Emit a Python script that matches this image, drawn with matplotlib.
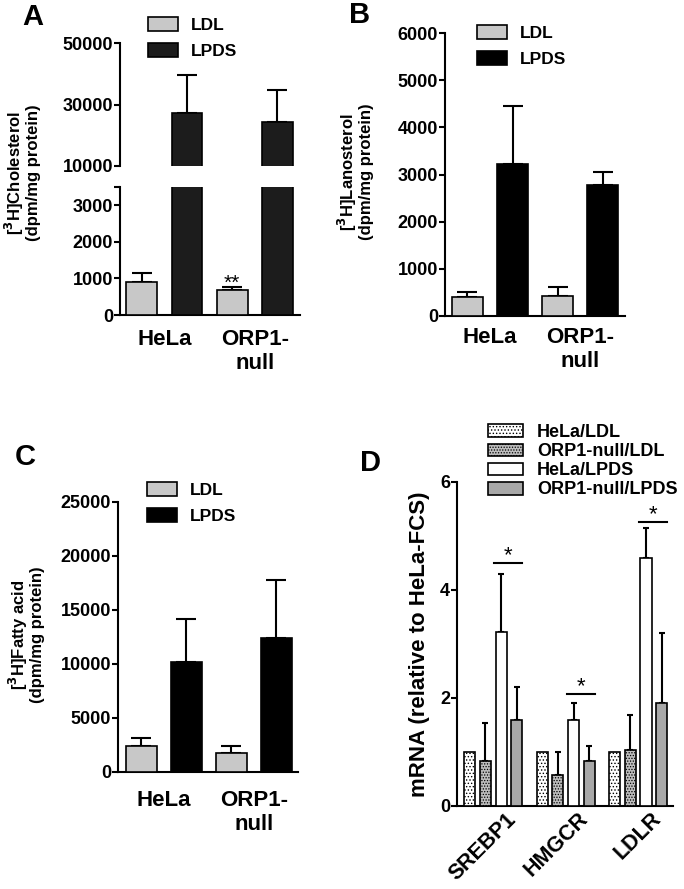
import matplotlib
matplotlib.use("Agg")
import matplotlib.pyplot as plt
import matplotlib.patches as mpatches
from matplotlib.transforms import ScaledTranslation
import numpy as np

plt.rcParams["font.family"] = ["Liberation Sans", "DejaVu Sans"]
plt.rcParams["font.weight"] = "bold"
plt.rcParams["hatch.linewidth"] = 0.6

W, H = 684, 889
fig = plt.figure(figsize=(W / 100, H / 100), dpi=100)
fig.patch.set_facecolor("white")

# ---- data ----
groups = ["HeLa", "ORP1-\nnull"]

a_ldl = [900, 680]
a_ldl_err = [240, 90]
a_lpds = [27200, 24300]
a_lpds_err = [12300, 10400]

b_ldl = [400, 420]
b_ldl_err = [110, 200]
b_lpds = [3220, 2780]
b_lpds_err = [1230, 270]

c_ldl = [2450, 1750]
c_ldl_err = [710, 670]
c_lpds = [10220, 12420]
c_lpds_err = [3920, 5340]

genes = ["SREBP1", "HMGCR", "LDLR"]
d_labels = ["HeLa/LDL", "ORP1-null/LDL", "HeLa/LPDS", "ORP1-null/LPDS"]
d_hela_ldl = [1.0, 1.0, 1.0]
d_null_ldl = [0.84, 0.58, 1.03]
d_null_ldl_err = [0.69, 0.42, 0.66]
d_hela_lpds = [3.22, 1.59, 4.59]
d_hela_lpds_err = [1.08, 0.32, 0.56]
d_null_lpds = [1.59, 0.83, 1.91]
d_null_lpds_err = [0.62, 0.28, 1.30]
d_sig_y = [4.5, 2.07, 5.26]

LDL_C = "#c8c8c8"
LW = 1.5


def ax_px(x0, y0, x1, y1):
    return fig.add_axes([x0 / W, 1 - y1 / H, (x1 - x0) / W, (y1 - y0) / H])


def style(ax, bottom=True):
    for s in ["top", "right"]:
        ax.spines[s].set_visible(False)
    ax.spines["left"].set_linewidth(LW)
    ax.spines["bottom"].set_linewidth(LW)
    if not bottom:
        ax.spines["bottom"].set_visible(False)
    ax.tick_params(axis="y", length=4, width=LW, pad=1, labelsize=13)
    ax.tick_params(axis="x", length=0, labelsize=16)
    ax.set_facecolor("none")


def pair_bars(ax, ldl, ldl_err, lpds, lpds_err, lpds_col, width=0.69):
    x = np.arange(len(ldl)) * 2
    ax.bar(x, ldl, width, color=LDL_C, edgecolor="black", linewidth=1.2, zorder=3)
    ax.bar(x + 1, lpds, width, color=lpds_col, edgecolor="black", linewidth=1.2, zorder=3)
    ax.errorbar(x, ldl, yerr=[np.zeros(len(ldl)), ldl_err], fmt="none",
                ecolor="black", elinewidth=LW, capsize=7, capthick=LW, zorder=2)
    ax.errorbar(x + 1, lpds, yerr=[np.zeros(len(lpds)), lpds_err], fmt="none",
                ecolor="black", elinewidth=LW, capsize=7, capthick=LW, zorder=2)
    return x


def pair_legend(ax, lpds_col, x0, ytop):
    h = [mpatches.Patch(facecolor=LDL_C, edgecolor="black", linewidth=1.2),
         mpatches.Patch(facecolor=lpds_col, edgecolor="black", linewidth=1.2)]
    ax.legend(h, ["LDL", "LPDS"], loc="upper left",
              bbox_to_anchor=(x0 / W, 1 - ytop / H), bbox_transform=fig.transFigure,
              frameon=False, borderpad=0, borderaxespad=0, handlelength=1.7,
              handleheight=0.9, handletextpad=0.75, labelspacing=0.55,
              prop=dict(size=12.5, weight="bold"))


def ylab(x, y, text, size=12):
    fig.text(x / W, 1 - y / H, text, rotation=90, ha="center", va="center",
             fontsize=size, fontweight="bold", multialignment="center",
             linespacing=1.05)


def letter(x, y, s):
    fig.text(x / W, 1 - y / H, s, ha="center", va="center", fontsize=21,
             fontweight="bold")


# ---- panel A (broken axis) ----
A_COL = "#1c1c1c"
axA_top = ax_px(120, 43, 300, 166)
axA_bot = ax_px(120, 187, 300, 315)
for ax in (axA_top, axA_bot):
    x = pair_bars(ax, a_ldl, a_ldl_err, a_lpds, a_lpds_err, A_COL, width=0.68)
    ax.set_xlim(-0.48, 3.5)
axA_top.set_ylim(10000, 50000)
axA_top.set_yticks([10000, 30000, 50000])
style(axA_top, bottom=False)
axA_top.set_xticks([])
axA_bot.set_ylim(0, 3500)
axA_bot.set_yticks([0, 1000, 2000, 3000, 3500])
axA_bot.set_yticklabels(["0", "1000", "2000", "3000", ""])
style(axA_bot)
axA_bot.set_xticks(x + 0.5)
axA_bot.set_xticklabels(groups, fontsize=16, fontweight="bold")
axA_bot.tick_params(axis="x", pad=10)
axA_bot.annotate("**", (x[1], a_ldl[1] + a_ldl_err[1]), xytext=(0, -4),
                 textcoords="offset points", ha="center", va="bottom",
                 fontsize=15, fontweight="normal")
pair_legend(axA_top, A_COL, 148, 17)
ylab(22, 173, "[$^{3}$H]Cholesterol\n(dpm/mg protein)")
letter(33, 17, "A")

# ---- panel B ----
axB = ax_px(445, 33, 625, 316)
x = pair_bars(axB, b_ldl, b_ldl_err, b_lpds, b_lpds_err, "black")
axB.set_xlim(-0.5, 3.5)
axB.set_ylim(0, 6000)
axB.set_yticks(np.arange(0, 6001, 1000))
style(axB)
axB.set_xticks(x + 0.5)
axB.set_xticklabels(groups, fontsize=16, fontweight="bold")
axB.tick_params(axis="x", pad=8)
pair_legend(axB, "black", 477, 25)
ylab(355, 172, "[$^{3}$H]Lanosterol\n(dpm/mg protein)")
letter(360, 15, "B")

# ---- panel C ----
axC = ax_px(118, 502, 298, 772)
x = pair_bars(axC, c_ldl, c_ldl_err, c_lpds, c_lpds_err, "black")
axC.set_xlim(-0.52, 3.48)
axC.set_ylim(0, 25000)
axC.set_yticks(np.arange(0, 25001, 5000))
style(axC)
axC.set_xticks(x + 0.5)
axC.set_xticklabels(groups, fontsize=16, fontweight="bold")
axC.tick_params(axis="x", pad=13)
pair_legend(axC, "black", 147, 482)
ylab(26, 635, "[$^{3}$H]Fatty acid\n(dpm/mg protein)")
letter(25, 457, "C")

# ---- panel D ----
axD = ax_px(457, 482, 673, 806)
gx = np.arange(len(genes))
bw, step = 0.152, 0.215
d_vals = [d_hela_ldl, d_null_ldl, d_hela_lpds, d_null_lpds]
d_errs = [None, d_null_ldl_err, d_hela_lpds_err, d_null_lpds_err]
d_face = ["white", "#bdbdbd", "white", "#a8a8a8"]
d_hatch = [".....", "......", None, None]
handles = []
for k in range(4):
    pos = gx + (k - 1.5) * step
    bars = axD.bar(pos, d_vals[k], bw, color=d_face[k], edgecolor="black",
                   linewidth=1.2, hatch=d_hatch[k], zorder=3)
    handles.append(bars[0])
    if d_errs[k] is not None:
        axD.errorbar(pos, d_vals[k], yerr=[np.zeros(3), d_errs[k]], fmt="none",
                     ecolor="black", elinewidth=LW, capsize=2.5, capthick=LW,
                     zorder=2)
for g in range(len(genes)):
    x0 = g + 0.5 * step - bw / 2 - 0.02
    x1 = g + 1.5 * step + bw / 2
    axD.plot([x0, x1], [d_sig_y[g]] * 2, color="black", lw=LW)
    axD.annotate("*", ((x0 + x1) / 2, d_sig_y[g]), xytext=(0, -2),
                 textcoords="offset points", ha="center", va="bottom",
                 fontsize=16, fontweight="normal")
axD.set_xlim(-0.5, 2.48)
axD.set_ylim(0, 6)
axD.set_yticks([0, 2, 4, 6])
style(axD)
axD.set_xticks(gx)
axD.set_xticklabels(genes, rotation=45, ha="right", va="top",
                    rotation_mode="anchor", fontsize=15.5, fontweight="bold")
axD.tick_params(axis="x", pad=2)
shift = ScaledTranslation(0.12, 0, fig.dpi_scale_trans)
for lab in axD.get_xticklabels():
    lab.set_transform(lab.get_transform() + shift)
axD.legend(handles, d_labels, loc="upper left",
           bbox_to_anchor=(488 / W, 1 - 424 / H), bbox_transform=fig.transFigure,
           frameon=False, borderpad=0, borderaxespad=0, handlelength=1.95,
           handleheight=0.7, handletextpad=0.75, labelspacing=0.12,
           prop=dict(size=13, weight="bold"))
ylab(420, 644, "mRNA (relative to HeLa-FCS)", size=16)
letter(370, 463, "D")

fig.savefig("out.png", dpi=100)
